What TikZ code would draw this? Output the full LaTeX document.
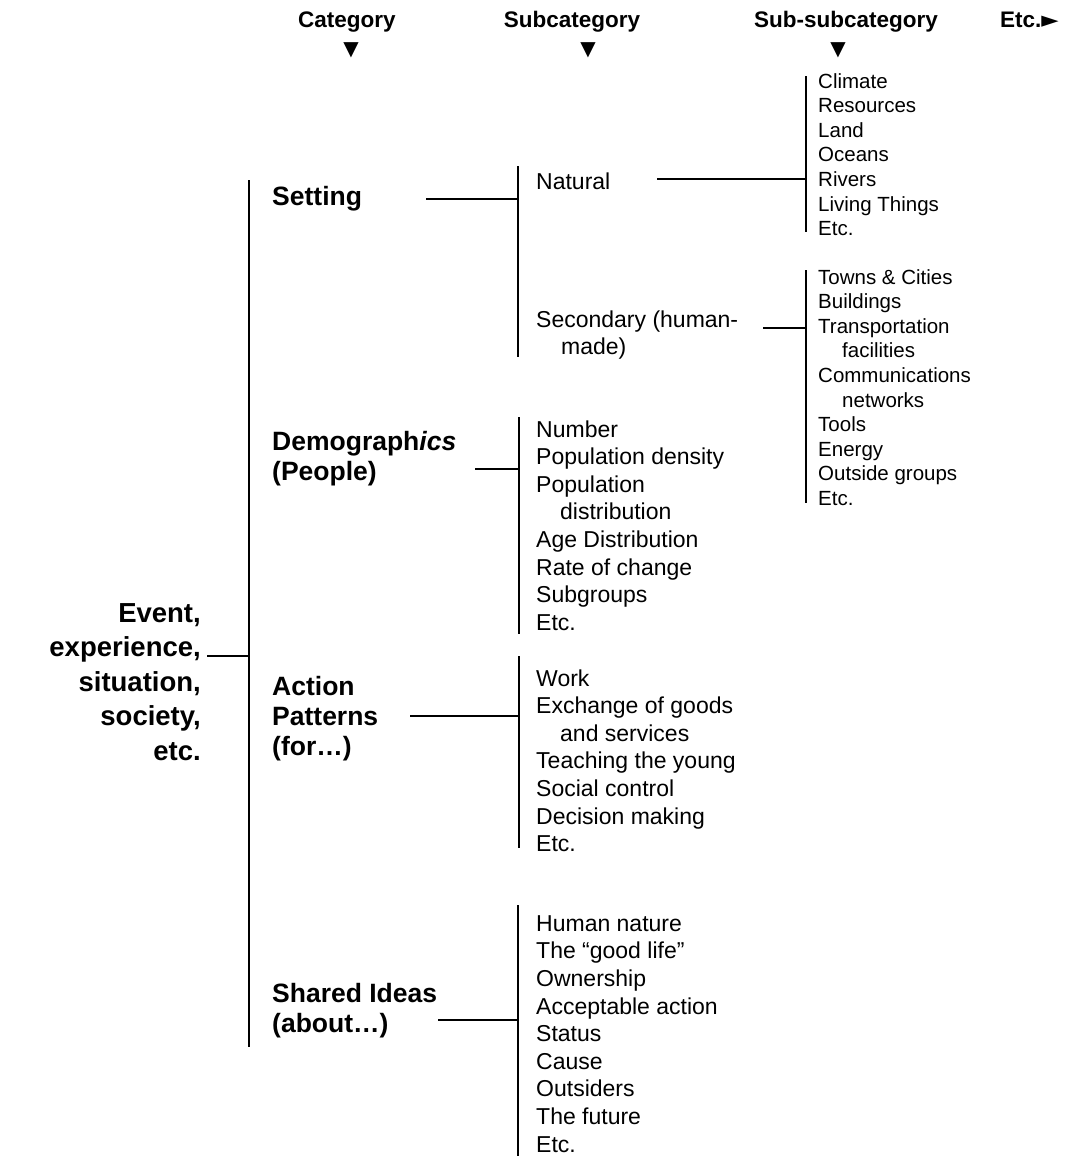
\documentclass[tikz,border=0pt]{standalone}
\usepackage{fontspec}
\setmainfont{Liberation Sans}
\newfontfamily\symfont{DejaVu Sans}
\begin{document}
\begin{tikzpicture}[x=1pt, y=-1pt,
    head/.style={font=\fontsize{22.5}{27}\selectfont\bfseries, anchor=base, inner sep=0pt},
    tri/.style={font=\fontsize{20}{20}\symfont, inner sep=0pt},
    root/.style={font=\fontsize{27.5}{34.5}\selectfont\bfseries, anchor=base east, align=right, inner sep=0pt},
    cat/.style={font=\fontsize{26.5}{30}\selectfont\bfseries, anchor=base west, align=left, inner sep=0pt},
    sub/.style={font=\fontsize{23}{27.6}\selectfont, anchor=base west, align=left, inner sep=0pt},
    subsub/.style={font=\fontsize{20.5}{24.6}\selectfont, anchor=base west, align=left, inner sep=0pt},
    bar/.style={line width=2.5pt}]
    \useasboundingbox (0,0) rectangle (1065,1156);

    % column heads
    \node[head] (cathead) at (347,28) {Category};
    \node[head] (subhead) at (572,28) {Subcategory};
    \node[head] (subsubhead) at (846,28) {Sub-subcategory};
    \node[head, anchor=base west] (etchead) at (1000,28) {Etc.{\symfont ►}};
    \node[tri] (catdown) at (351,50) {▼};
    \node[tri] (subdown) at (588,50) {▼};
    \node[tri] (subsubdown) at (838,50) {▼};

    % root (multi-line nodes sit on their last baseline)
    \node[root] (event) at (201,760) {Event,\\experience,\\situation,\\society,\\etc.};
    \coordinate (rootL) at (207,656);
    \coordinate (rootR) at (249,656);
    \coordinate (mainT) at (249,180);
    \coordinate (mainB) at (249,1047);
    \draw[bar] (mainT) -- (mainB);
    \draw[bar] (rootL) -- (rootR);

    % categories
    \node[cat] (setting) at (272,205) {Setting};
    \node[cat] (demog) at (272,480) {Demograph\textit{ics}\\(People)};
    \node[cat] (action) at (272,755) {Action\\Patterns\\(for…)};
    \node[cat] (ideas) at (272,1032) {Shared Ideas\\(about…)};

    % setting
    \coordinate (setL) at (426,199);
    \coordinate (setR) at (518,199);
    \coordinate (setT) at (518,166);
    \coordinate (setB) at (518,357);
    \draw[bar] (setL) -- (setR);
    \draw[bar] (setT) -- (setB);
    \node[sub] (natural) at (536,189) {Natural};
    \node[sub] (second) at (536,354.6) {Secondary (human-\\\hspace*{25pt}made)};

    \coordinate (natL) at (657,179);
    \coordinate (natR) at (806,179);
    \coordinate (natT) at (806,76);
    \coordinate (natB) at (806,232);
    \draw[bar] (natL) -- (natR);
    \draw[bar] (natT) -- (natB);
    \node[subsub] (natlist) at (818,235.6) {Climate\\Resources\\Land\\Oceans\\Rivers\\Living Things\\Etc.};

    \coordinate (secL) at (763,328);
    \coordinate (secR) at (806,328);
    \coordinate (secT) at (806,270);
    \coordinate (secB) at (806,503);
    \draw[bar] (secL) -- (secR);
    \draw[bar] (secT) -- (secB);
    \node[subsub] (seclist) at (818,505.4) {Towns \& Cities\\Buildings\\Transportation\\\hspace*{24pt}facilities\\Communications\\\hspace*{24pt}networks\\Tools\\Energy\\Outside groups\\Etc.};

    % demographics
    \coordinate (demL) at (475,469);
    \coordinate (demR) at (519,469);
    \coordinate (demT) at (519,417);
    \coordinate (demB) at (519,634);
    \draw[bar] (demL) -- (demR);
    \draw[bar] (demT) -- (demB);
    \node[sub] (demlist) at (536,630.2) {Number\\Population density\\Population\\\hspace*{24pt}distribution\\Age Distribution\\Rate of change\\Subgroups\\Etc.};

    % action patterns
    \coordinate (actL) at (410,716);
    \coordinate (actR) at (519,716);
    \coordinate (actT) at (519,656);
    \coordinate (actB) at (519,848);
    \draw[bar] (actL) -- (actR);
    \draw[bar] (actT) -- (actB);
    \node[sub] (actlist) at (536,851.6) {Work\\Exchange of goods\\\hspace*{24pt}and services\\Teaching the young\\Social control\\Decision making\\Etc.};

    % shared ideas
    \coordinate (ideaL) at (438,1020);
    \coordinate (ideaR) at (518,1020);
    \coordinate (ideaT) at (518,905);
    \coordinate (ideaB) at (518,1156);
    \draw[bar] (ideaL) -- (ideaR);
    \draw[bar] (ideaT) -- (ideaB);
    \node[sub] (idealist) at (536,1152) {Human nature\\The “good life”\\Ownership\\Acceptable action\\Status\\Cause\\Outsiders\\The future\\Etc.};
\end{tikzpicture}
\end{document}
